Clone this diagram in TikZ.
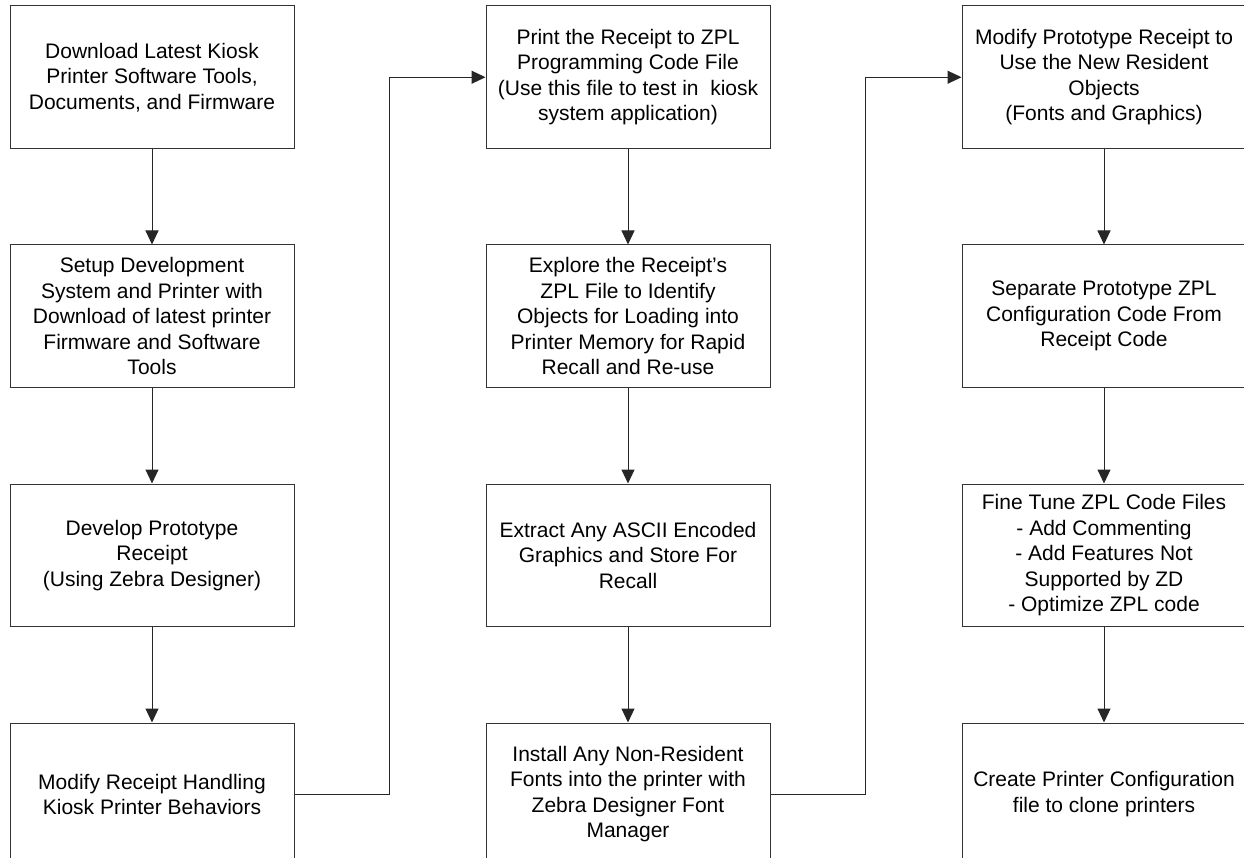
\documentclass[tikz,border=0pt]{standalone}
\usepackage{fontspec}
\setmainfont{Liberation Sans}
\usetikzlibrary{arrows.meta,positioning}
\tikzset{
  box/.style={draw=black!80,line width=1pt,minimum width=284pt,minimum height=142.5pt,inner sep=0pt,align=center,font=\fontsize{21}{25.5}\selectfont},
  arr/.style={-{Triangle[length=14pt,width=13pt]},line width=1pt,draw=black!85},
}
\begin{document}
\begin{tikzpicture}[x=1pt,y=1pt]
\useasboundingbox (0,0) rectangle (1244,-858);
% first column
\node[box] (s1) at (152,-77.25) {Download Latest Kiosk\\Printer Software Tools,\\Documents, and Firmware};
\node[box,below=95.5pt of s1] (s2) {Setup Development\\System and Printer with\\Download of latest printer\\Firmware and Software\\Tools};
\node[box,below=95.5pt of s2] (s3) {Develop Prototype\\Receipt\\(Using Zebra Designer)};
\node[box,below=95.5pt of s3] (s4) {Modify Receipt Handling\\Kiosk Printer Behaviors};
% second column
\node[box,right=191pt of s1] (s5) {Print the Receipt to ZPL\\Programming Code File\\(Use this file to test in~ kiosk\\system application)};
\node[box,below=95.5pt of s5] (s6) {Explore the Receipt’s\\ZPL File to Identify\\Objects for Loading into\\Printer Memory for Rapid\\Recall and Re-use};
\node[box,below=95.5pt of s6] (s7) {Extract Any ASCII Encoded\\Graphics and Store For\\Recall};
\node[box,below=95.5pt of s7] (s8) {Install Any Non-Resident\\Fonts into the printer with\\Zebra Designer Font\\Manager};
% third column
\node[box,right=191pt of s5] (s9) {Modify Prototype Receipt to\\Use the New Resident\\Objects\\(Fonts and Graphics)};
\node[box,below=95.5pt of s9] (s10) {Separate Prototype ZPL\\Configuration Code From\\Receipt Code};
\node[box,below=95.5pt of s10] (s11) {Fine Tune ZPL Code Files\\- Add Commenting\\- Add Features Not\\Supported by ZD\\- Optimize ZPL code};
\node[box,below=95.5pt of s11] (s12) {Create Printer Configuration\\file to clone printers};
\foreach \a/\b in {s1/s2,s2/s3,s3/s4,s5/s6,s6/s7,s7/s8,s9/s10,s10/s11,s11/s12} \draw[arr] (\a)--(\b);
\draw[arr] (s4.east) -- ++(95,0) |- (s5.west);
\draw[arr] (s8.east) -- ++(95,0) |- (s9.west);
\end{tikzpicture}
\end{document}
